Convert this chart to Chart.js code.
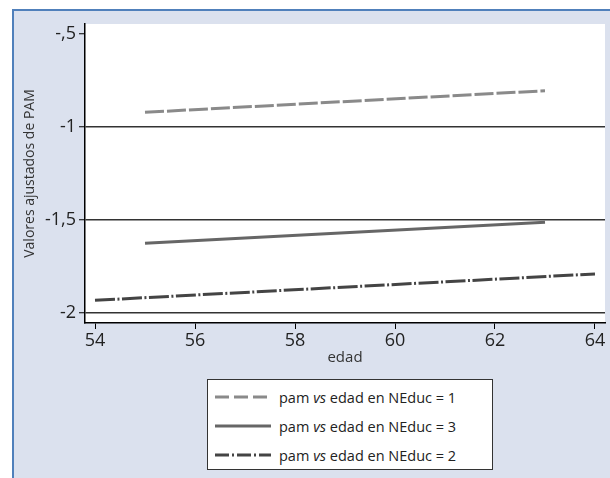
<!DOCTYPE html>
<html>
<head>
<meta charset="utf-8">
<script src="https://cdn.jsdelivr.net/npm/chart.js@4.4.1/dist/chart.umd.min.js"></script>
<style>
  body { margin: 0; background: #fff; }
  #wrap { position: relative; width: 610px; height: 478px; overflow: hidden; font-family: "Open Sans", sans-serif; }
  #frame { position: absolute; left: 12px; top: 9px; right: 0; bottom: 0; background: #dbe1ee; border-top: 2px solid #5080bb; border-left: 2px solid #5080bb; }
  #chart { position: absolute; left: 0; top: 0; }
  #legend { position: absolute; left: 207px; top: 379px; width: 284px; height: 89px; background: #fff; border: 1px solid #333; }
  #legend .row { position: absolute; left: 7px; height: 20px; display: flex; align-items: center; font-size: 14.5px; color: #222; white-space: nowrap; }
  #legend svg { margin-right: 8px; }
</style>
</head>
<body>
<div id="wrap">
  <div id="frame"></div>
  <canvas id="chart" width="610" height="478"></canvas>
  <div id="legend"></div>
</div>
<script>
// fitted values
const edad1 = [55, 63];
const pam1 = [-0.921, -0.805];
const edad3 = [55, 63];
const pam3 = [-1.625, -1.512];
const edad2 = [54, 64];
const pam2 = [-1.932, -1.790];

const xTicks = [54, 56, 58, 60, 62, 64];
const yTicks = [-0.5, -1, -1.5, -2];
const yTickLabels = ['-,5', '-1', '-1,5', '-2'];
const seriesNames = ['NEduc = 1', 'NEduc = 3', 'NEduc = 2'];

function pts(xs, ys) {
    return xs.map((x, i) => ({ x: x, y: ys[i] }));
}

const plotBg = {
    id: 'plotBg',
    beforeDraw(chart) {
        const a = chart.chartArea;
        const ctx = chart.ctx;
        ctx.save();
        ctx.fillStyle = '#fff';
        ctx.fillRect(a.left, a.top, a.right - a.left, a.bottom - a.top);
        ctx.restore();
    }
};

const datasets = [
    { label: seriesNames[0], data: pts(edad1, pam1), borderColor: '#8a8a8a', borderWidth: 3, borderDash: [19, 3], legendDash: '14,5' },
    { label: seriesNames[1], data: pts(edad3, pam3), borderColor: '#666666', borderWidth: 3, borderDash: [], legendDash: '' },
    { label: seriesNames[2], data: pts(edad2, pam2), borderColor: '#444444', borderWidth: 3, borderDash: [20, 2.5, 2, 2.5], legendDash: '14,3,2,3' }
];

const chart = new Chart(document.getElementById('chart').getContext('2d'), {
    type: 'line',
    data: { datasets: datasets },
    options: {
        responsive: false,
        animation: false,
        layout: { padding: { top: 24, right: 5, bottom: 105, left: 0 } },
        elements: { point: { radius: 0 }, line: { tension: 0, borderCapStyle: 'butt' } },
        plugins: { legend: { display: false }, tooltip: { enabled: false } },
        scales: {
            x: {
                type: 'linear',
                min: 53.8,
                max: 64.2,
                afterBuildTicks: s => { s.ticks = xTicks.map(v => ({ value: v })); },
                afterFit: s => { s.height = 50; },
                ticks: { font: { family: 'Open Sans', size: 18 }, color: '#222', padding: 1, callback: v => String(v) },
                grid: { drawOnChartArea: false, tickLength: 6, tickColor: '#000', tickWidth: 1 },
                border: { color: '#000', width: 1.5 },
                title: { display: true, text: 'edad', font: { family: 'Open Sans', size: 15 }, color: '#333', padding: { top: 0, bottom: 6 } }
            },
            y: {
                min: -2.054,
                max: -0.446,
                afterBuildTicks: s => { s.ticks = yTicks.map(v => ({ value: v })); },
                afterFit: s => { s.width = 85; },
                ticks: {
                    font: { family: 'Open Sans', size: 18 }, color: '#222', padding: 3,
                    callback: v => yTickLabels[yTicks.indexOf(v)]
                },
                grid: {
                    color: c => (c.tick && c.tick.value === -0.5) ? 'rgba(0,0,0,0)' : '#333',
                    lineWidth: 1.5,
                    tickLength: 6, tickColor: '#000', tickWidth: 1
                },
                border: { color: '#000', width: 1.5 },
                title: { display: true, text: 'Valores ajustados de PAM', font: { family: 'Open Sans', size: 14 }, color: '#333', padding: { top: 22, bottom: 0 } }
            }
        }
    },
    plugins: [plotBg]
});

// legend box built from the datasets
const legend = document.getElementById('legend');
const rowTops = [7, 36, 65];
datasets.forEach((ds, i) => {
    const row = document.createElement('div');
    row.className = 'row';
    row.style.top = rowTops[i] + 'px';
    row.innerHTML =
        '<svg width="56" height="6"><line x1="0" y1="3" x2="56" y2="3" stroke="' + ds.borderColor +
        '" stroke-width="3" stroke-dasharray="' + ds.legendDash + '"/></svg>' +
        '<span>pam <i>vs</i> edad en ' + ds.label + '</span>';
    legend.appendChild(row);
});
</script>
</body>
</html>
